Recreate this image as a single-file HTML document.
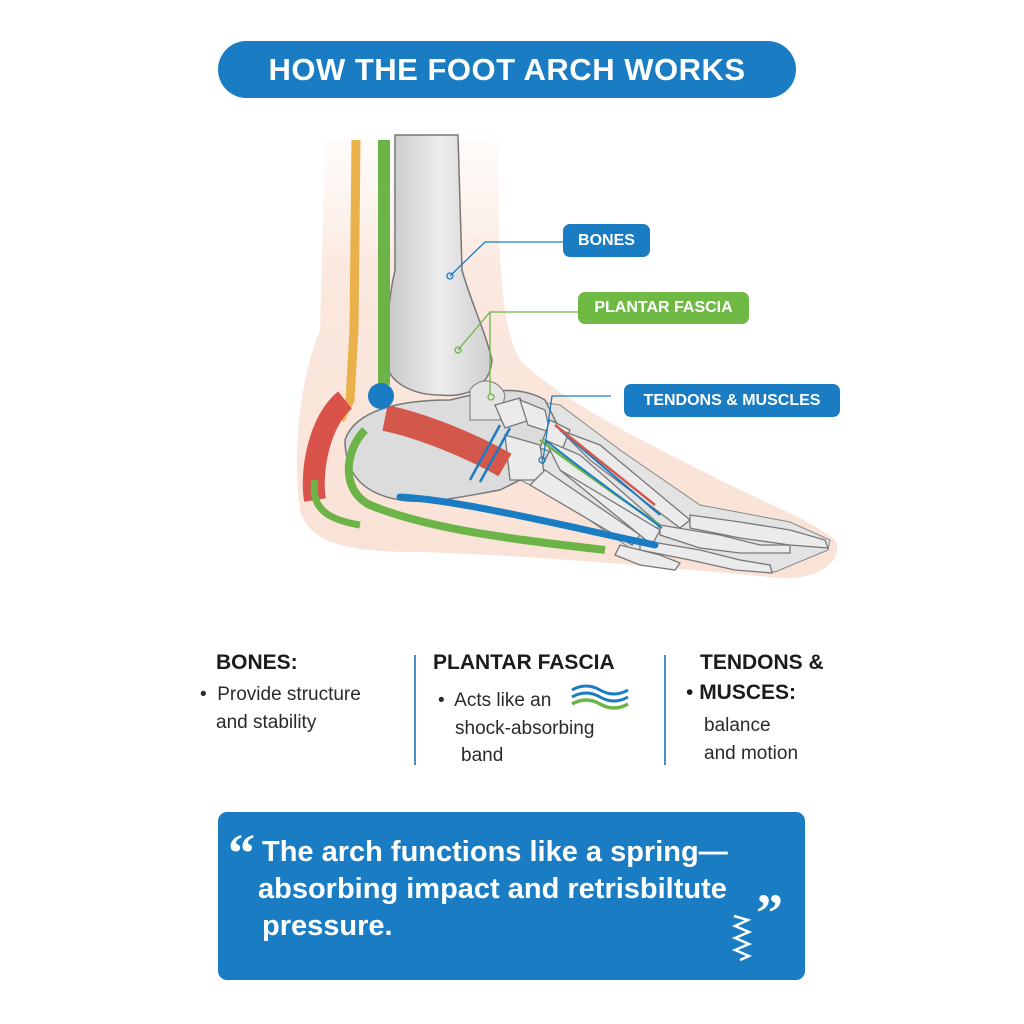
<!DOCTYPE html>
<html><head><meta charset="utf-8"><style>
html,body{margin:0;padding:0;background:#fff;}
body{width:1024px;height:1024px;position:relative;overflow:hidden;font-family:"Liberation Sans",sans-serif;}
.abs{position:absolute;white-space:nowrap;}
.pill{position:absolute;color:#fff;font-weight:bold;display:flex;align-items:center;justify-content:center;}
.h{font-weight:bold;font-size:21px;color:#1b1b1b;}
.t{font-size:19px;color:#2a2a2a;}
</style></head><body>
<div class="pill" style="left:218px;top:41px;width:578px;height:57px;border-radius:29px;background:#1a7dc4;font-size:31px;letter-spacing:0.5px;">HOW THE FOOT ARCH WORKS</div>

<svg class="abs" style="left:0;top:0" width="1024" height="640" viewBox="0 0 1024 640">
<defs>
<linearGradient id="sk" x1="0" y1="0" x2="0" y2="1"><stop offset="0" stop-color="#fdf3ee" stop-opacity="0.3"/><stop offset="0.3" stop-color="#fbe8de"/><stop offset="1" stop-color="#f9e2d6"/></linearGradient>
<linearGradient id="bn" x1="0" y1="0" x2="1" y2="0"><stop offset="0" stop-color="#c9c9c9"/><stop offset="0.5" stop-color="#ececec"/><stop offset="1" stop-color="#cfcfcf"/></linearGradient>
</defs>
<path d="M325,140 L320,330 C300,380 292,450 300,510 C310,545 350,552 420,552 C520,555 640,565 780,578 C820,580 845,560 835,540 C810,520 770,505 720,480 C640,440 560,400 520,360 C505,330 498,300 498,140 Z" fill="url(#sk)"/>
<!-- tibia -->
<path d="M395,135 L458,135 L462,270 C470,300 485,330 492,360 C490,385 470,398 440,395 C415,395 395,385 388,370 C385,340 388,300 395,270 Z" fill="url(#bn)" stroke="#777" stroke-width="1.5"/>
<!-- bone mass -->
<path d="M495,395 L560,405 L620,450 L700,505 L790,522 L830,540 L828,550 L775,572 L700,560 L630,548 L560,500 L520,480 Z" fill="#e3e3e3" stroke="#888" stroke-width="1"/>
<!-- calcaneus & tarsals -->
<path d="M345,440 C355,410 400,400 450,400 C490,390 520,385 545,400 L560,430 L540,470 L500,490 C470,495 430,505 400,500 C370,495 345,480 345,440 Z" fill="#dcdcdc" stroke="#777" stroke-width="1.5"/>
<path d="M470,390 C480,375 500,380 505,395 L500,420 L470,420 Z" fill="#e4e4e4" stroke="#777"/>
<g fill="#ebebeb" stroke="#777" stroke-width="1.3">
<path d="M495,405 L520,398 L530,420 L505,428 Z"/>
<path d="M520,400 L545,410 L550,432 L528,425 Z"/>
<path d="M550,420 L570,430 L560,455 L540,448 Z"/>
<path d="M505,435 L540,445 L545,480 L510,480 Z"/>
<path d="M545,440 L580,455 L660,525 L650,535 L560,470 Z"/>
<path d="M560,430 L600,445 L690,520 L680,528 L590,460 Z"/>
<path d="M545,470 L640,535 L632,545 L530,485 Z"/>
<path d="M560,470 L660,530 L652,545 Z"/>
<path d="M660,525 L720,535 L760,545 L790,545 L790,553 L740,553 L700,548 L660,535 Z"/>
<path d="M690,515 L740,522 L790,530 L825,540 L828,548 L790,545 L740,538 L690,528 Z"/>
<path d="M640,540 L700,550 L740,560 L770,565 L772,573 L735,570 L690,560 L640,550 Z"/>
<path d="M620,545 L660,555 L680,563 L675,570 L640,565 L615,555 Z"/>
</g>
<!-- tendons -->
<path d="M356,140 L354,330 L350,400 L340,420" stroke="#e9b04c" stroke-width="9" fill="none"/>
<path d="M384,140 L384,385" stroke="#6db448" stroke-width="12" fill="none"/>
<path d="M345,400 C320,420 310,470 315,500" stroke="#d9534a" stroke-width="22" fill="none"/>
<path d="M385,418 C420,425 470,445 505,465" stroke="#d4574b" stroke-width="26" fill="none"/>
<path d="M365,430 C345,450 340,490 370,505 C430,530 520,540 605,550" stroke="#6db448" stroke-width="8" fill="none"/>
<path d="M400,497 C460,500 560,525 655,545" stroke="#1a7dc4" stroke-width="7" fill="none" stroke-linecap="round"/>
<path d="M315,480 C310,510 330,520 360,525" stroke="#6db448" stroke-width="7" fill="none"/>
<path d="M500,425 L470,480 M510,428 L480,482" stroke="#1a7dc4" stroke-width="2.5"/>
<path d="M540,440 C580,470 630,505 660,525" stroke="#6db448" stroke-width="2.5" fill="none"/>
<path d="M545,440 C585,472 635,508 662,528 M560,430 L660,515" stroke="#1a7dc4" stroke-width="2" fill="none"/>
<path d="M555,425 L655,505" stroke="#d4574b" stroke-width="2.5"/>
<circle cx="381" cy="396" r="13" fill="#1a7dc4"/>
<!-- leader lines -->
<g stroke="#1a7dc4" stroke-width="1.3" fill="none">
<path d="M450,276 L485,242 L563,242"/><circle cx="450" cy="276" r="3"/>
<path d="M611,396 L552,396 L543,460"/><circle cx="542" cy="460" r="3"/>
</g>
<g stroke="#6db448" stroke-width="1.3" fill="none">
<path d="M458,350 L490,312 L578,312"/><path d="M490,312 L490,395"/><circle cx="458" cy="350" r="3"/><circle cx="491" cy="397" r="3"/>
</g>
</svg>

<div class="pill" style="left:563px;top:224px;width:87px;height:33px;border-radius:7px;background:#1a7dc4;font-size:16px;">BONES</div>
<div class="pill" style="left:578px;top:292px;width:171px;height:32px;border-radius:7px;background:#6fba45;font-size:16px;">PLANTAR FASCIA</div>
<div class="pill" style="left:624px;top:384px;width:216px;height:33px;border-radius:7px;background:#1a7dc4;font-size:16px;">TENDONS &amp; MUSCLES</div>

<div class="abs h" style="left:216px;top:651px;">BONES:</div>
<div class="abs t" style="left:200px;top:684px;">•&nbsp; Provide structure</div>
<div class="abs t" style="left:216px;top:712px;">and stability</div>
<div class="abs" style="left:414px;top:655px;width:2px;height:110px;background:#4a90c8;"></div>
<div class="abs h" style="left:433px;top:651px;">PLANTAR FASCIA</div>
<div class="abs t" style="left:438px;top:690px;">•&nbsp; Acts like an</div>
<div class="abs t" style="left:455px;top:718px;">shock-absorbing</div>
<div class="abs t" style="left:461px;top:745px;">band</div>
<svg class="abs" style="left:570px;top:684px" width="62" height="28"><path d="M2,6 q14,-8 28,0 t28,0" stroke="#1a7dc4" stroke-width="3" fill="none"/><path d="M2,13 q14,-8 28,0 t28,0" stroke="#1a7dc4" stroke-width="3" fill="none"/><path d="M2,20 q14,-8 28,0 t28,0" stroke="#6db448" stroke-width="3.5" fill="none"/></svg>
<div class="abs" style="left:664px;top:655px;width:2px;height:110px;background:#4a90c8;"></div>
<div class="abs h" style="left:700px;top:651px;">TENDONS &amp;</div>
<div class="abs h" style="left:686px;top:681px;"><span style="font-weight:normal">•</span> MUSCES:</div>
<div class="abs t" style="left:704px;top:715px;">balance</div>
<div class="abs t" style="left:704px;top:743px;">and motion</div>

<div class="abs" style="left:218px;top:812px;width:587px;height:168px;border-radius:9px;background:#1a7dc4;"></div>
<div class="abs" style="left:228px;top:822px;color:#fff;font-weight:bold;font-size:54px;font-family:'Liberation Serif',serif;">“</div>
<div class="abs" style="left:262px;top:836px;color:#fff;font-weight:bold;font-size:29px;">The arch functions like a spring—</div>
<div class="abs" style="left:258px;top:873px;color:#fff;font-weight:bold;font-size:29px;">absorbing impact and retrisbiltute</div>
<div class="abs" style="left:262px;top:910px;color:#fff;font-weight:bold;font-size:29px;">pressure.</div>
<div class="abs" style="left:756px;top:882px;color:#fff;font-weight:bold;font-size:54px;font-family:'Liberation Serif',serif;">”</div>
<svg class="abs" style="left:730px;top:912px" width="24" height="52"><path d="M4,4 L18,8 L5,14 L19,20 L5,26 L19,32 L5,38 L19,44 L10,48" stroke="#fff" stroke-width="2.5" fill="none"/></svg>
</body></html>
